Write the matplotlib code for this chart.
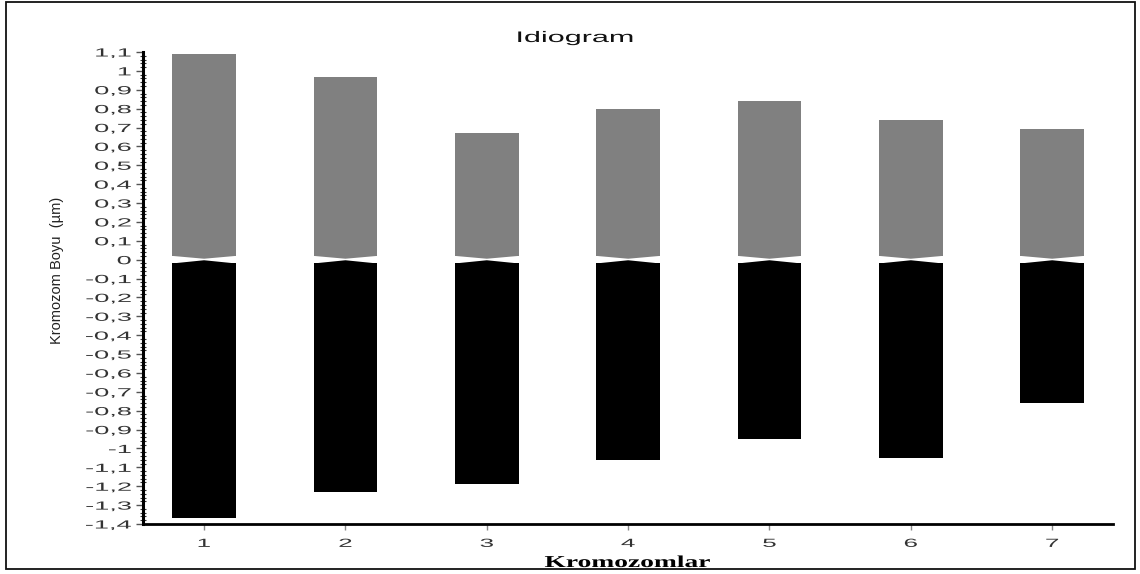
import matplotlib
matplotlib.use("Agg")
import matplotlib.pyplot as plt
from matplotlib.patches import Polygon, Rectangle
from matplotlib.ticker import MultipleLocator
from matplotlib.patheffects import AbstractPathEffect
from matplotlib.transforms import Affine2D
import numpy as np

plt.rcParams['font.family'] = ['Liberation Sans', 'DejaVu Sans']

chromosomes = [1, 2, 3, 4, 5, 6, 7]
short_arm = [1.09, 0.97, 0.67, 0.80, 0.84, 0.74, 0.69]
long_arm = [-1.37, -1.23, -1.19, -1.06, -0.95, -1.05, -0.76]
y_ticks = [1.1, 1.0, 0.9, 0.8, 0.7, 0.6, 0.5, 0.4, 0.3, 0.2, 0.1, 0.0,
           -0.1, -0.2, -0.3, -0.4, -0.5, -0.6, -0.7, -0.8, -0.9, -1.0,
           -1.1, -1.2, -1.3, -1.4]

title = "Idiogram"
xlabel = "Kromozomlar"
ylabel = "Kromozom Boyu  (\u00b5m)"


class Stretch(AbstractPathEffect):
    """Stretch the drawn text horizontally in display space (the reference
    image is horizontally stretched), anchored on the text's own extents."""

    def __init__(self, sx=1.0, anchor='center'):
        super().__init__()
        self.sx, self.anchor = sx, anchor

    def draw_path(self, renderer, gc, tpath, affine, rgbFace=None):
        ext = tpath.transformed(affine).get_extents()
        if self.anchor == 'right':
            cx = ext.x1
        elif self.anchor == 'left':
            cx = ext.x0
        else:
            cx = (ext.x0 + ext.x1) / 2
        t = Affine2D().translate(-cx, 0).scale(self.sx, 1.0).translate(cx, 0)
        renderer.draw_path(gc, tpath, affine + t, rgbFace)


W, H = 1140, 574
fig = plt.figure(figsize=(W / 100, H / 100), dpi=100)
ax = fig.add_axes([143 / W, 1 - 524 / H, (1113 - 143) / W, (524 - 52) / H])

width = 0.45
gap = 0.02
notch_up = 0.005
notch_dn = -0.003
gray = '#808080'

x = np.array(chromosomes, dtype=float)
sa = np.array(short_arm)
la = np.array(long_arm)
ax.bar(x, sa - gap, bottom=gap, width=width, color=gray, linewidth=0)
ax.bar(x, la + gap, bottom=-gap, width=width, color='black', linewidth=0)
for xi in x:
    ax.add_patch(Polygon([(xi - width / 2, gap), (xi + width / 2, gap), (xi, notch_up)],
                         closed=True, facecolor=gray, edgecolor='none'))
    ax.add_patch(Polygon([(xi - width / 2, -gap), (xi + width / 2, -gap), (xi, notch_dn)],
                         closed=True, facecolor='black', edgecolor='none'))

ax.set_xlim(0.568, 7.43)
ax.set_ylim(-1.4, 1.1)


def fmt(v):
    s = ('%.1f' % v).rstrip('0').rstrip('.')
    if s == '-0':
        s = '0'
    return s.replace('.', ',')


ax.set_yticks(y_ticks)
ax.set_yticklabels([fmt(v) for v in y_ticks], fontsize=8.5, color='#333333')
ax.yaxis.set_minor_locator(MultipleLocator(0.02))
ax.set_xticks(chromosomes)
ax.set_xticklabels([str(c) for c in chromosomes], fontsize=8.5, color='#333333')

for t in ax.get_yticklabels():
    t.set_path_effects([Stretch(sx=2.3, anchor='right')])
for t in ax.get_xticklabels():
    t.set_path_effects([Stretch(sx=2.2, anchor='center')])

for s in ['top', 'right']:
    ax.spines[s].set_visible(False)
ax.spines['left'].set_linewidth(2.2)
ax.spines['bottom'].set_linewidth(2.0)
ax.tick_params(axis='y', which='major', direction='out', length=5, width=1, color='#555555', pad=3.5)
ax.tick_params(axis='y', which='minor', direction='inout', length=4, width=0.8, color='#333333')
ax.tick_params(axis='x', which='major', direction='out', length=4, width=1, color='#888888', pad=6)

t_title = fig.text(575 / W, 1 - 42 / H, title, ha='center', va='baseline', fontsize=11,
                   color='#111111')
t_title.set_path_effects([Stretch(sx=2.0)])

t_x = fig.text(627 / W, 1 - 567 / H, xlabel, ha='center', va='baseline', fontsize=12,
               fontweight='bold', family=['Liberation Serif', 'DejaVu Serif'])
t_x.set_path_effects([Stretch(sx=1.65)])

fig.text(57 / W, 1 - 270 / H, ylabel, ha='center', va='center', fontsize=10.5,
         rotation=90, color='#222222')

fig.patches.append(Rectangle((6 / W, 1 - 569 / H), (1135 - 6) / W, (569 - 2) / H,
                             transform=fig.transFigure, fill=False, edgecolor='#111111',
                             linewidth=1.3))

fig.savefig('out.png', dpi=100)
